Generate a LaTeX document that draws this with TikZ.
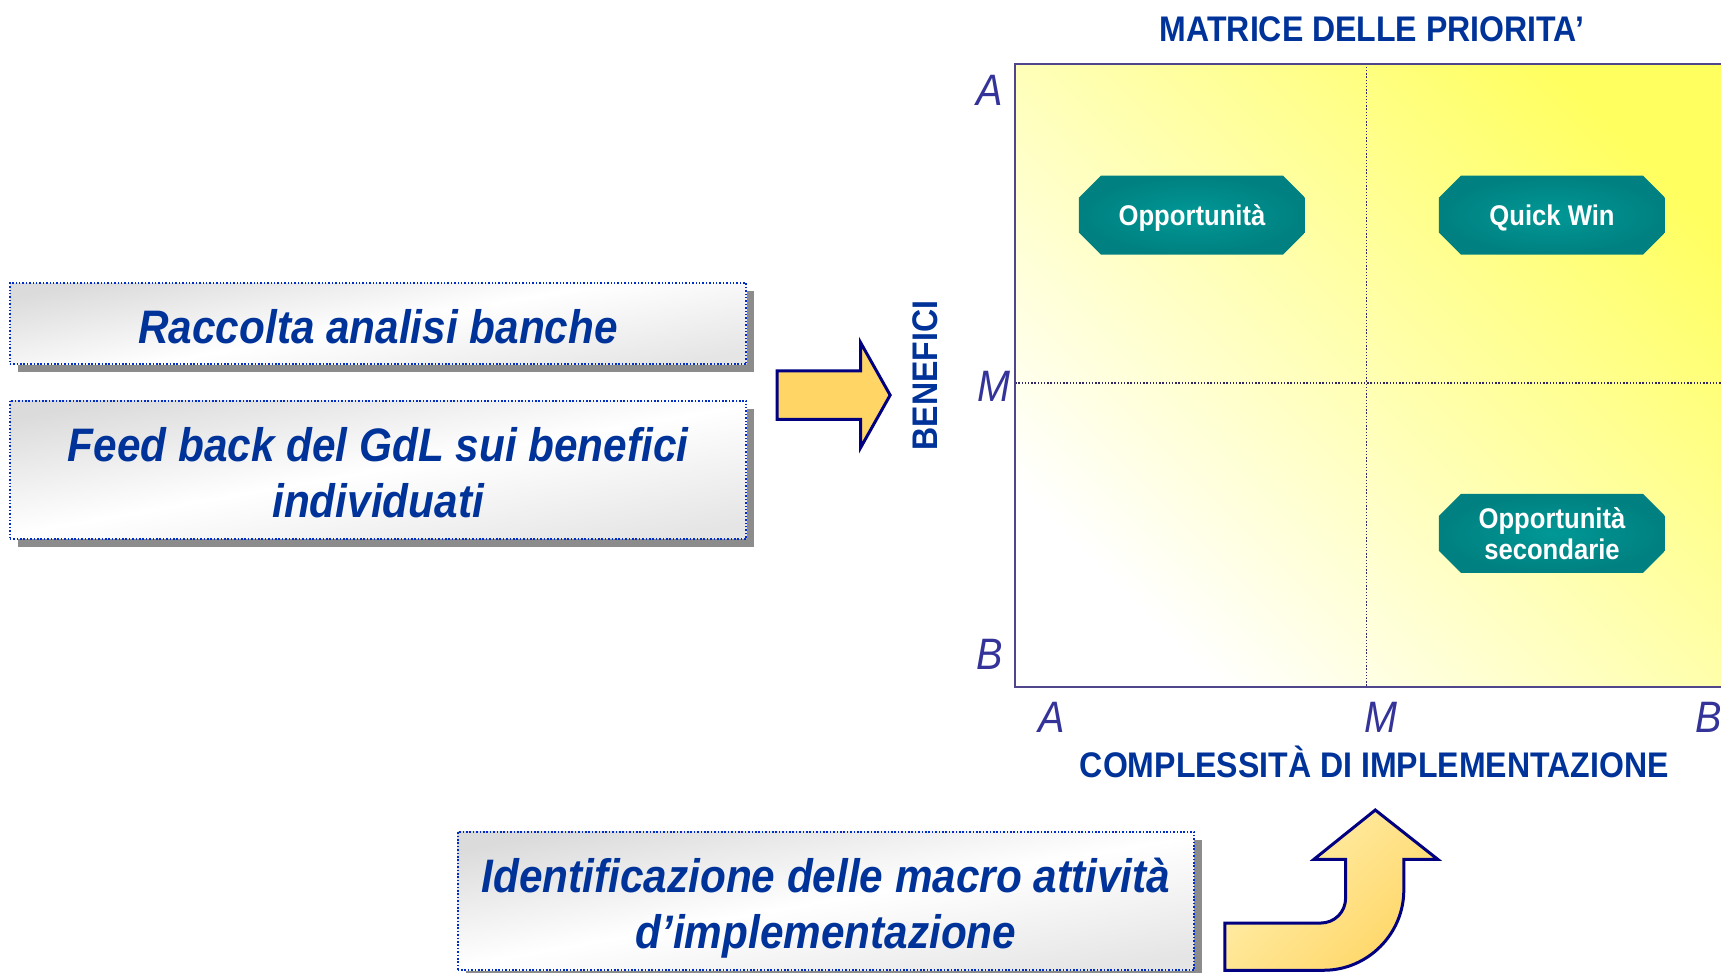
\documentclass[tikz,border=0pt]{standalone}
\usepackage{fontspec}
\setmainfont{Liberation Sans}
\newfontfamily\nar[FakeStretch=0.9]{Liberation Sans}
\usetikzlibrary{shadows}
\definecolor{boxtext}{RGB}{0,51,153}
\definecolor{boxblue}{RGB}{0,45,200}
\definecolor{shadowgray}{RGB}{140,140,140}
\definecolor{axlabel}{RGB}{51,51,153}
\definecolor{matborder}{RGB}{80,70,140}
\definecolor{dotcol}{RGB}{50,40,100}
\definecolor{matyellow}{RGB}{255,255,95}
\definecolor{matpale}{RGB}{255,255,200}
\definecolor{tealdark}{RGB}{0,128,128}
\definecolor{teallight}{RGB}{0,152,150}
\definecolor{navyline}{RGB}{0,0,128}
\definecolor{arrgold}{RGB}{255,214,102}
\definecolor{arrlight}{RGB}{255,240,176}
\begin{document}
\begin{tikzpicture}[x=1.0976pt,y=-1.0976pt,
  boxstyle/.style={draw=boxblue, line width=2pt, dash pattern=on 1.5pt off 1.9pt,
    top color=gray!28, bottom color=gray!20, middle color=white, shading angle=10,
    minimum width=736.5pt, inner sep=0pt,
    drop shadow={fill=shadowgray, opacity=1, shadow xshift=8pt, shadow yshift=-8pt}},
  boxtxt/.style={inner sep=0pt, align=center, text=boxtext,
    font=\nar\bfseries\itshape\fontsize{47}{56}\selectfont},
  axtitle/.style={inner sep=0pt, text=boxtext, font=\nar\bfseries\fontsize{35.6}{40}\selectfont},
  axl/.style={inner sep=0pt, text=axlabel, font=\nar\itshape\fontsize{44}{48}\selectfont},
  octo/.style={minimum width=226pt, minimum height=79pt, inner sep=0pt, align=center,
    text depth=0pt,
    text=white, font=\nar\bfseries\fontsize{28.5}{31}\selectfont,
    path picture={\shade[inner color=teallight, outer color=tealdark]
      ([xshift=22pt]path picture bounding box.north west) --
      ([xshift=-22pt]path picture bounding box.north east) --
      ([yshift=-22pt]path picture bounding box.north east) --
      ([yshift=22pt]path picture bounding box.south east) --
      ([xshift=-22pt]path picture bounding box.south east) --
      ([xshift=22pt]path picture bounding box.south west) --
      ([yshift=22pt]path picture bounding box.south west) --
      ([yshift=-22pt]path picture bounding box.north west) -- cycle;}},
  dotline/.style={draw=dotcol, line width=1.7pt, dash pattern=on 1.3pt off 1.9pt},
  matline/.style={draw=matborder, line width=2.2pt},
  blockarrow/.style={draw=navyline, line width=3pt, line join=miter}
]
\useasboundingbox (0,0) rectangle (1568,886);
\clip (0,0) rectangle (1568,886);

% left and bottom boxes
\node[boxstyle, minimum height=81.2pt] (b1) at (344.5,295) {};
\node[boxstyle, minimum height=138.3pt] (b2) at (344.5,428) {};
\node[boxstyle, minimum height=138.3pt] (b3) at (752.5,821) {};
\node[boxtxt] (t1) at (344.5,297.5) {Raccolta analisi banche};
\node[boxtxt] (t2) at (344.5,430.5) {Feed back del GdL sui benefici\\individuati};
\node[boxtxt] (t3) at (752.5,827.5) {Identificazione delle macro attività\\d’implementazione};

% right block arrow
\shade[top color=arrgold, middle color=arrlight, bottom color=arrgold, shading angle=45]
  (708,338) -- (784,338) -- (784,312) -- (811,360) -- (784,408) -- (784,382) -- (708,382) -- cycle;
\draw[blockarrow] (708,338) -- (784,338) -- (784,312) -- (811,360) -- (784,408) -- (784,382) -- (708,382) -- cycle;

% curved block arrow
\shade[top color=arrlight, bottom color=arrgold, shading angle=45]
  (1116,841) -- (1203,841) .. controls (1216,841) and (1226,831) .. (1226,818)
  -- (1226,783) -- (1197,783) -- (1253,738) -- (1310,783) -- (1279,783) -- (1279,811)
  .. controls (1279,851) and (1246,884) .. (1206,884) -- (1116,884) -- cycle;
\draw[blockarrow]
  (1116,841) -- (1203,841) .. controls (1216,841) and (1226,831) .. (1226,818)
  -- (1226,783) -- (1197,783) -- (1253,738) -- (1310,783) -- (1279,783) -- (1279,811)
  .. controls (1279,851) and (1246,884) .. (1206,884) -- (1116,884) -- cycle;

% matrix
\shade[top color=matyellow, middle color=matpale, bottom color=white, shading angle=-45] (925,58) rectangle (1600,626);
\draw[dotline] (1245,58) -- (1245,626);
\draw[dotline] (925,349) -- (1600,349);
\draw[matline] (1600,58) -- (925,58) -- (925,626) -- (1600,626);

\node[axtitle] (title) at (1250,27) {MATRICE DELLE PRIORITA’};
\node[axtitle, rotate=90] (ben) at (843,342) {BENEFICI};
\node[axtitle] (compl) at (1252,694) {COMPLESSITÀ DI IMPLEMENTAZIONE};

\node[axl] (ya) at (902,82) {A};
\node[axl] (ym) at (906,352) {M};
\node[axl] (yb) at (902,596) {B};
\node[axl] (xa) at (958,654) {A};
\node[axl] (xm) at (1258,654) {M};
\node[axl] (xb) at (1557,654) {B};

\node[octo] (opp) at (1086,196) {Opportunità};
\node[octo] (qw) at (1414,196) {Quick Win};
\node[octo] (opps) at (1414,486) {Opportunità\\secondarie};
\end{tikzpicture}
\end{document}
